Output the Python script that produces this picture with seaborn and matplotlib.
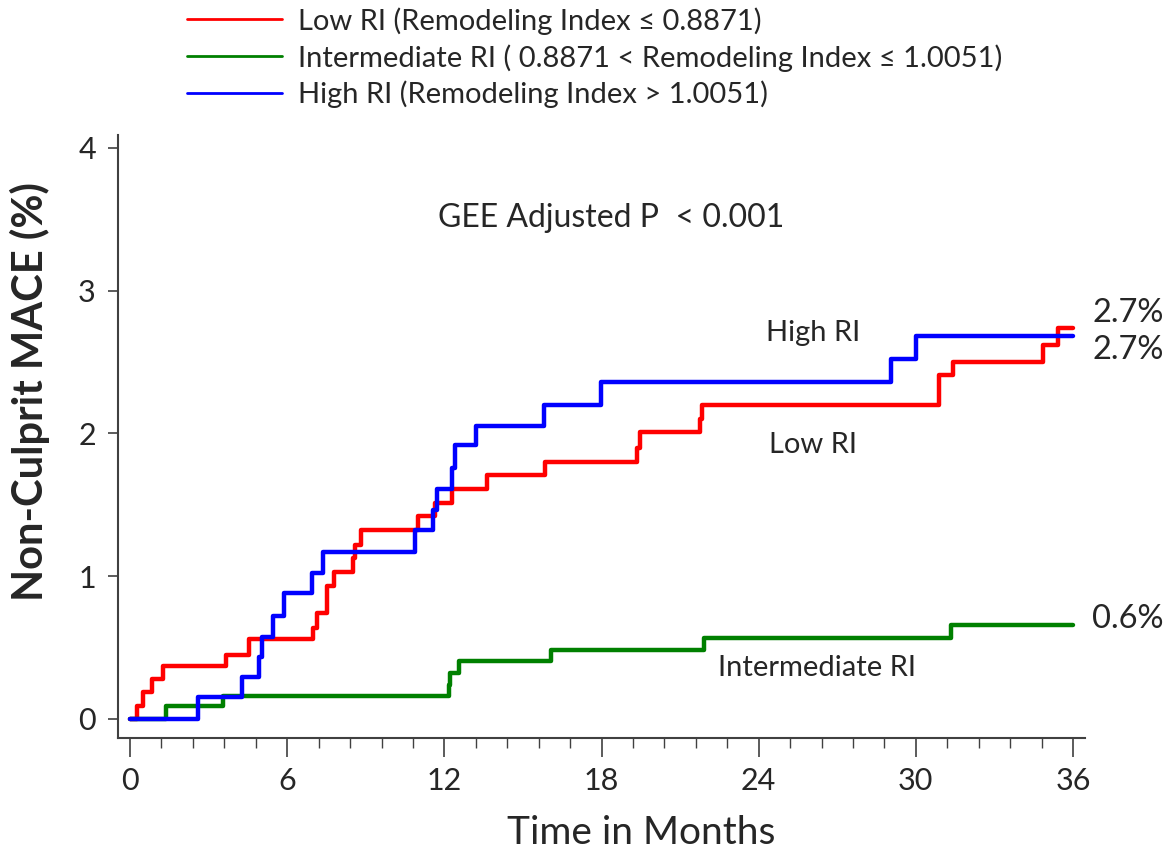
import numpy as np
import pandas as pd
import matplotlib
matplotlib.use("Agg")
import matplotlib.pyplot as plt
import seaborn as sns
from matplotlib.ticker import MultipleLocator

# Data (time in months, cumulative non-culprit MACE %)
low_t = [0, 0.25, 0.48, 0.85, 1.24, 3.65, 4.54, 7.0, 7.12, 7.5, 7.8, 8.53, 8.59, 8.82,
         11.0, 11.64, 12.28, 13.64, 15.84, 19.36, 19.47, 21.76, 21.82, 30.9, 31.43,
         34.87, 35.44, 36.0]
low_y = [0, 0.09, 0.19, 0.28, 0.37, 0.45, 0.56, 0.64, 0.745, 0.93, 1.03, 1.125, 1.22, 1.32,
         1.42, 1.51, 1.61, 1.71, 1.80, 1.90, 2.01, 2.10, 2.20, 2.41, 2.50,
         2.62, 2.74, 2.74]

mid_t = [0, 1.36, 3.56, 12.19, 12.22, 12.54, 16.06, 21.9, 31.36, 36.0]
mid_y = [0, 0.093, 0.161, 0.238, 0.325, 0.406, 0.483, 0.57, 0.658, 0.658]

high_t = [0, 2.6, 4.26, 4.93, 5.05, 5.47, 5.89, 6.93, 7.35, 10.88, 11.55, 11.71, 12.28,
          12.41, 13.2, 15.81, 17.98, 29.07, 29.99, 36.0]
high_y = [0, 0.156, 0.296, 0.436, 0.577, 0.72, 0.88, 1.02, 1.172, 1.324, 1.464, 1.609, 1.756,
          1.919, 2.055, 2.2, 2.36, 2.52, 2.68, 2.68]

labels = ["Low RI (Remodeling Index \u2264 0.8871)",
          "Intermediate RI ( 0.8871 < Remodeling Index \u2264 1.0051)",
          "High RI (Remodeling Index > 1.0051)"]
colors = ["#ff0000", "#008000", "#0000ff"]
x_ticks = [0, 6, 12, 18, 24, 30, 36]
y_ticks = [0, 1, 2, 3, 4]

sns.set_style("white")
plt.rcParams["font.family"] = ["Lato", "DejaVu Sans"]

fig = plt.figure(figsize=(11.72, 8.56), dpi=100)
ax = fig.add_axes([0.1007, 0.1379, 0.8251, 0.7044])

series = [(low_t, low_y), (mid_t, mid_y), (high_t, high_y)]
for (t, y), lab, c in zip(series, labels, colors):
    sns.lineplot(x=t, y=y, ax=ax, color=c, linewidth=3.2, label=lab,
                 drawstyle="steps-post", estimator=None, sort=False)

ax.set_xlim(-0.46, 36.46)
ax.set_ylim(-0.133, 4.09)
ax.set_xticks(x_ticks)
ax.set_yticks(y_ticks)
ax.xaxis.set_minor_locator(MultipleLocator(1.2))

for s in ["top", "right"]:
    ax.spines[s].set_visible(False)
for s in ["left", "bottom"]:
    ax.spines[s].set_color("#404040")
    ax.spines[s].set_linewidth(1.5)

ax.tick_params(axis="x", which="major", direction="out", length=14, width=1.2,
               color="#404040", labelsize=22, pad=7, bottom=True)
ax.tick_params(axis="x", which="minor", direction="out", length=7, width=1.0,
               color="#404040", bottom=True)
ax.tick_params(axis="y", which="major", direction="out", length=7, width=1.2,
               color="#404040", labelsize=22, pad=9, left=True)

ax.set_xlabel("Time in Months", fontsize=28)
ax.xaxis.set_label_coords(0.541, -0.128)
ax.set_ylabel("Non-Culprit MACE (%)", fontsize=30, fontweight="bold")
ax.yaxis.set_label_coords(-0.07, 0.574)

ax.text(18.37, 3.51, "GEE Adjusted P  < 0.001", fontsize=23, ha="center", va="center")
ax.text(26.08, 2.70, "High RI", fontsize=21, ha="center", va="center")
ax.text(26.08, 1.92, "Low RI", fontsize=21, ha="center", va="center")
ax.text(26.23, 0.357, "Intermediate RI", fontsize=21, ha="center", va="center")
ax.text(36.73, 2.844, "2.7%", fontsize=23.5, ha="left", va="center", clip_on=False)
ax.text(36.73, 2.585, "2.7%", fontsize=23.5, ha="left", va="center", clip_on=False)
ax.text(36.73, 0.70, "0.6%", fontsize=23.5, ha="left", va="center", clip_on=False)

handles, labs = ax.get_legend_handles_labels()
ax.get_legend().remove()
leg = fig.legend(handles, labs, loc="upper left", bbox_to_anchor=(187 / 1172, 1 - 7 / 856),
                 frameon=False, fontsize=21, handlelength=3.27, handletextpad=0.52,
                 labelspacing=0.32, borderpad=0, borderaxespad=0)
for ln in leg.get_lines():
    ln.set_linewidth(2)

fig.savefig("out.png", dpi=100)
